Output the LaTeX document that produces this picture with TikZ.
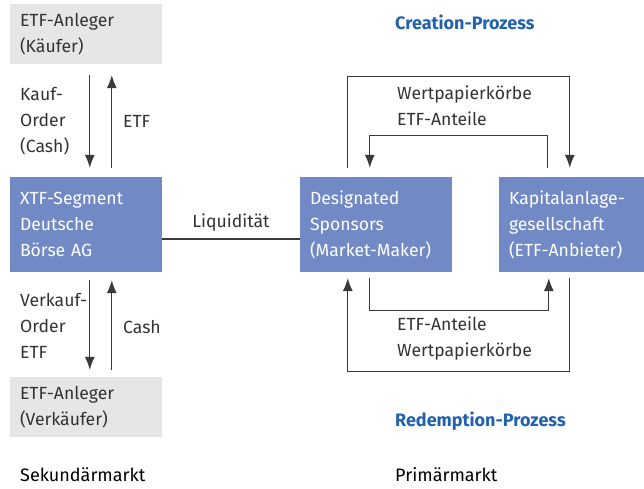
\documentclass[tikz,border=0pt]{standalone}
\usepackage{fontspec}
\setmainfont{Fira Sans}
\usepackage{tikz}
\usetikzlibrary{arrows.meta,calc}
\definecolor{boxblau}{HTML}{7189C5}
\definecolor{boxgrau}{HTML}{E6E6E7}
\definecolor{titelblau}{HTML}{2161AD}
\definecolor{schrift}{HTML}{333333}
\definecolor{linie}{HTML}{3A3A3A}

\begin{document}
\begin{tikzpicture}[x=1pt, y=1pt,
    txt/.style={font=\fontsize{17.6pt}{26pt}\selectfont, text=schrift, inner sep=0pt, align=left},
    anleger/.style={txt, fill=boxgrau, minimum width=152pt, minimum height=60pt, text width=132pt, inner xsep=10pt},
    stelle/.style={txt, fill=boxblau, text=white, minimum height=95pt, inner xsep=10pt},
    titel/.style={txt, font=\fontsize{18pt}{26pt}\selectfont\bfseries, text=titelblau},
    markt/.style={txt, font=\fontsize{18pt}{26pt}\selectfont, text=black},
    pfeil/.style={draw=linie, line width=1.1pt, -{Latex[length=13pt,width=10pt]}},
    fluss/.style={draw=linie, line width=1.1pt}]

    \useasboundingbox (0,0) rectangle (644,488);

    % Sekundaermarkt
    \node[anleger] (kaeufer) at (86,454) {ETF-Anleger\\(Käufer)};
    \node[stelle, minimum width=152pt, text width=132pt] (xtf) at (86,263.5) {XTF-Segment\\Deutsche\\Börse AG};
    \node[anleger] (verkaeufer) at (86,81) {ETF-Anleger\\(Verkäufer)};

    \draw[pfeil] ($(kaeufer.south west)+(80,-11)$) -- ($(xtf.north west)+(80,9)$);
    \draw[pfeil] ($(xtf.north west)+(102,9)$) -- ($(kaeufer.south west)+(102,-11)$);
    \node[txt, anchor=west] (kauforder) at (20,367) {Kauf-\\Order\\(Cash)};
    \node[txt, anchor=west] (etfoben) at (123,367) {ETF};

    \draw[pfeil] ($(xtf.south west)+(80,-8)$) -- ($(verkaeufer.north west)+(80,7)$);
    \draw[pfeil] ($(verkaeufer.north west)+(102,7)$) -- ($(xtf.south west)+(102,-8)$);
    \node[txt, anchor=west] (verkauforder) at (20,162) {Verkauf-\\Order\\ETF};
    \node[txt, anchor=west] (cash) at (123,161) {Cash};

    % Primaermarkt
    \node[stelle, minimum width=152pt, text width=132pt] (sponsors) at (376,263.5) {Designated\\Sponsors\\(Market-Maker)};
    \node[stelle, minimum width=145pt, text width=125pt] (kag) at (571.5,263.5) {Kapitalanlage-\\gesellschaft\\(ETF-Anbieter)};

    \draw[fluss, line width=2pt] ($(xtf.east)+(0,-14)$) -- ($(sponsors.west)+(0,-14)$)
        node[midway, above=6pt, txt] (liquiditaet) {Liquidität};

    % Creation
    \draw[pfeil] ($(sponsors.north west)+(48,9)$) |- ($(kag.north west)+(71,100)$) -- ($(kag.north west)+(71,9)$);
    \draw[pfeil] ($(kag.north west)+(49,9)$) |- ($(sponsors.north west)+(70,41)$) -- ($(sponsors.north west)+(70,9)$);
    \node[txt, anchor=west] (creationtext) at (397,382) {Wertpapierkörbe\\ETF-Anteile};

    % Redemption
    \draw[pfeil] ($(sponsors.south west)+(70,-6)$) |- ($(kag.south west)+(50,-38)$) -- ($(kag.south west)+(50,-6)$);
    \draw[pfeil] ($(kag.south west)+(71,-6)$) |- ($(sponsors.south west)+(48,-99)$) -- ($(sponsors.south west)+(48,-6)$);
    \node[txt, anchor=west] (redemptiontext) at (397,149.5) {ETF-Anteile\\Wertpapierkörbe};

    \node[titel, anchor=west] (creation) at (395,466) {Creation-Prozess};
    \node[titel, anchor=west] (redemption) at (395,67) {Redemption-Prozess};
    \node[markt, anchor=west] (sekundaer) at (20,13) {Sekundärmarkt};
    \node[markt, anchor=west] (primaer) at (395,13) {Primärmarkt};
\end{tikzpicture}
\end{document}
